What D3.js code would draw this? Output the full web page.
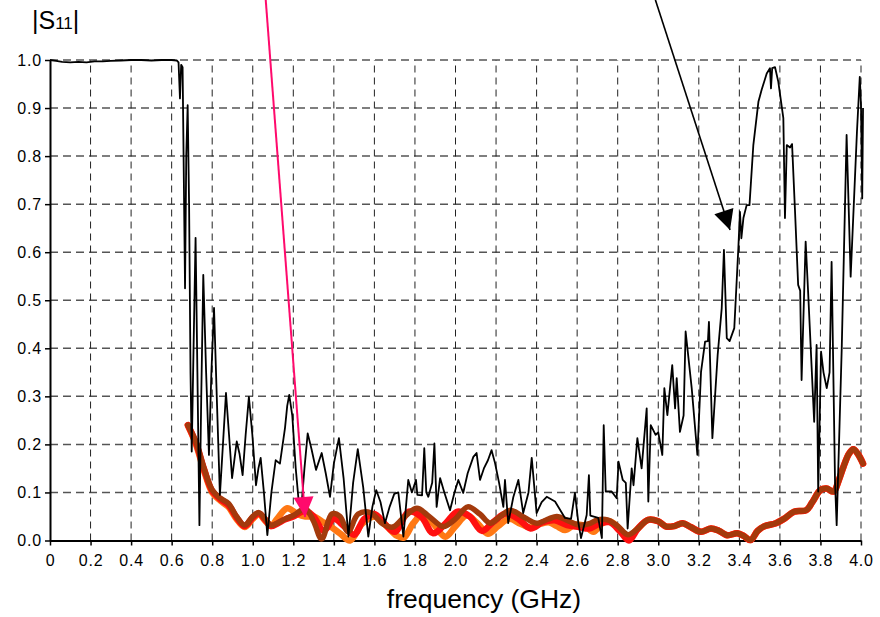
<!DOCTYPE html>
<meta charset="utf-8">
<style>
body { margin: 0; background: #fff; }
svg text { font-family: "Liberation Sans", Arial, sans-serif; fill: #000; }
</style>
<body>
<svg width="880" height="617"></svg>
<script src="https://cdn.jsdelivr.net/npm/d3@7"></script>
<script>

var xTicks = [0,0.2,0.4,0.6,0.8,1.0,1.2,1.4,1.6,1.8,2.0,2.2,2.4,2.6,2.8,3.0,3.2,3.4,3.6,3.8,4.0];
var xTickLabels = ["0","0.2","0.4","0.6","0.8","1.0","1.2","1.4","1.6","1.8","2.0","2.2","2.4","2.6","2.8","3.0","3.2","3.4","3.6","3.8","4.0"];
var yTicks = [0,0.1,0.2,0.3,0.4,0.5,0.6,0.7,0.8,0.9,1.0];
var yTickLabels = ["0.0","0.1","0.2","0.3","0.4","0.5","0.6","0.7","0.8","0.9","1.0"];

// measured |S11| (black)
var measured = [
[0.00,1.000],[0.03,0.998],[0.06,0.996],[0.10,0.995],[0.14,0.996],[0.18,0.995],[0.22,0.997],[0.26,0.997],[0.30,0.998],[0.35,0.999],[0.40,1.0],[0.45,1.0],[0.50,0.999],[0.55,1.0],[0.60,1.0],[0.625,0.999],[0.634,0.995],
[0.641,0.92],[0.647,0.99],[0.654,0.985],[0.666,0.525],[0.672,0.8],[0.679,0.906],[0.686,0.7],[0.693,0.35],[0.699,0.185],[0.708,0.4],[0.718,0.63],[0.727,0.35],[0.737,0.032],[0.746,0.3],[0.756,0.553],[0.770,0.35],[0.784,0.178],[0.796,0.35],[0.809,0.484],[0.824,0.28],[0.838,0.095],[0.853,0.2],[0.868,0.307],[0.883,0.22],[0.898,0.13],[0.910,0.17],[0.921,0.206],[0.935,0.18],[0.950,0.136],[0.965,0.22],[0.981,0.299],[0.998,0.22],[1.016,0.115],[1.028,0.15],[1.039,0.172],[1.055,0.1],[1.072,0.011],[1.092,0.1],[1.113,0.167],[1.134,0.16],[1.159,0.234],[1.170,0.28],[1.180,0.303],[1.195,0.26],[1.212,0.15],[1.225,0.089],[1.240,0.07],[1.255,0.15],[1.271,0.223],[1.290,0.19],[1.312,0.147],[1.340,0.182],[1.360,0.14],[1.381,0.091],[1.400,0.16],[1.425,0.213],[1.448,0.13],[1.472,0.008],[1.495,0.12],[1.518,0.19],[1.545,0.11],[1.570,0.008],[1.590,0.07],[1.609,0.105],[1.630,0.08],[1.652,0.036],[1.675,0.07],[1.698,0.097],[1.718,0.1],[1.743,0.008],[1.767,0.126],[1.785,0.1],[1.805,0.126],[1.812,0.095],[1.835,0.094],[1.846,0.192],[1.856,0.1],[1.866,0.091],[1.885,0.12],[1.896,0.202],[1.907,0.07],[1.924,0.13],[1.945,0.1],[1.973,0.063],[1.995,0.1],[2.014,0.126],[2.038,0.099],[2.060,0.14],[2.088,0.174],[2.104,0.182],[2.121,0.126],[2.140,0.15],[2.160,0.167],[2.178,0.188],[2.195,0.161],[2.215,0.12],[2.236,0.07],[2.244,0.126],[2.260,0.036],[2.285,0.09],[2.310,0.126],[2.334,0.057],[2.360,0.1],[2.376,0.172],[2.400,0.057],[2.425,0.08],[2.450,0.091],[2.491,0.081],[2.540,0.047],[2.570,0.045],[2.589,0.099],[2.605,0.04],[2.619,0.005],[2.647,0.053],[2.658,0.136],[2.665,0.052],[2.704,0.047],[2.722,0.005],[2.731,0.24],[2.741,0.102],[2.770,0.102],[2.795,0.088],[2.804,0.164],[2.825,0.126],[2.840,0.12],[2.849,0.025],[2.869,0.15],[2.878,0.115],[2.897,0.213],[2.918,0.15],[2.943,0.275],[2.951,0.081],[2.963,0.24],[2.987,0.22],[3.000,0.225],[3.020,0.178],[3.030,0.317],[3.045,0.261],[3.069,0.365],[3.083,0.275],[3.091,0.338],[3.107,0.226],[3.125,0.26],[3.135,0.435],[3.165,0.317],[3.193,0.178],[3.211,0.351],[3.231,0.414],[3.245,0.415],[3.250,0.455],[3.267,0.213],[3.293,0.386],[3.313,0.483],[3.324,0.605],[3.338,0.421],[3.352,0.415],[3.375,0.442],[3.395,0.608],[3.403,0.684],[3.410,0.629],[3.420,0.671],[3.436,0.698],[3.450,0.698],[3.469,0.823],[3.494,0.913],[3.510,0.938],[3.535,0.972],[3.551,0.983],[3.556,0.941],[3.562,0.983],[3.576,0.985],[3.592,0.955],[3.617,0.879],[3.625,0.671],[3.634,0.823],[3.650,0.818],[3.660,0.825],[3.674,0.691],[3.690,0.532],[3.700,0.52],[3.707,0.334],[3.727,0.622],[3.740,0.51],[3.769,0.247],[3.781,0.407],[3.789,0.102],[3.803,0.393],[3.815,0.35],[3.831,0.317],[3.845,0.35],[3.855,0.58],[3.872,0.12],[3.880,0.032],[3.905,0.4],[3.929,0.844],[3.949,0.549],[3.980,0.85],[3.994,0.965],[4.000,0.906],[4.006,0.712],[4.010,0.9]
];

// simulated curves (thick): separate below 2.86 GHz, shared above
var orangeHead = [
[0.68,0.24],[0.72,0.2],[0.76,0.145],[0.80,0.1],[0.84,0.083],[0.88,0.07],[0.92,0.045],[0.96,0.028],[1.00,0.045],[1.03,0.055],[1.06,0.042],[1.09,0.03],[1.12,0.045],[1.17,0.067],[1.22,0.055],[1.26,0.05],[1.30,0.05],[1.34,0.04],[1.38,0.03],[1.43,0.015],[1.48,0.0],[1.54,0.035],[1.60,0.05],[1.66,0.03],[1.71,0.01],[1.745,0.006],[1.79,0.035],[1.84,0.055],[1.89,0.035],[1.95,0.008],[2.00,0.03],[2.055,0.052],[2.11,0.035],[2.16,0.014],[2.21,0.03],[2.265,0.045],[2.32,0.035],[2.37,0.027],[2.42,0.035],[2.46,0.038],[2.50,0.03],[2.54,0.022],[2.59,0.033],[2.64,0.03],[2.68,0.018],[2.72,0.035],[2.76,0.04],[2.80,0.028],[2.85,0.008]
];
var redHead = [
[0.68,0.24],[0.72,0.203],[0.76,0.148],[0.80,0.103],[0.84,0.086],[0.88,0.074],[0.92,0.048],[0.96,0.03],[1.00,0.048],[1.03,0.056],[1.06,0.044],[1.09,0.03],[1.12,0.035],[1.16,0.044],[1.20,0.05],[1.26,0.062],[1.30,0.05],[1.35,0.02],[1.40,0.045],[1.45,0.03],[1.50,0.012],[1.55,0.045],[1.60,0.055],[1.65,0.035],[1.70,0.018],[1.77,0.06],[1.83,0.05],[1.89,0.015],[1.95,0.035],[2.01,0.06],[2.07,0.05],[2.13,0.02],[2.19,0.04],[2.25,0.056],[2.31,0.045],[2.37,0.025],[2.43,0.038],[2.49,0.042],[2.55,0.032],[2.61,0.028],[2.66,0.025],[2.71,0.035],[2.76,0.038],[2.81,0.02],[2.855,0.0]
];
var brownHead = [
[0.68,0.24],[0.72,0.205],[0.76,0.15],[0.80,0.105],[0.84,0.088],[0.88,0.077],[0.92,0.05],[0.96,0.032],[1.00,0.05],[1.03,0.058],[1.06,0.045],[1.09,0.032],[1.12,0.036],[1.16,0.045],[1.20,0.052],[1.26,0.066],[1.30,0.04],[1.34,0.003],[1.39,0.055],[1.43,0.05],[1.47,0.018],[1.52,0.055],[1.58,0.058],[1.64,0.035],[1.69,0.028],[1.75,0.05],[1.81,0.067],[1.87,0.05],[1.94,0.029],[2.00,0.045],[2.06,0.07],[2.12,0.055],[2.17,0.036],[2.22,0.05],[2.27,0.063],[2.34,0.048],[2.40,0.036],[2.46,0.045],[2.50,0.05],[2.56,0.04],[2.61,0.032],[2.66,0.035],[2.70,0.043],[2.75,0.043],[2.80,0.03],[2.85,0.012]
];
var sharedTail = [
[2.90,0.025],[2.95,0.043],[3.00,0.04],[3.04,0.029],[3.08,0.03],[3.12,0.036],[3.16,0.028],[3.21,0.018],[3.26,0.025],[3.30,0.02],[3.34,0.011],[3.39,0.015],[3.42,0.01],[3.455,0.001],[3.49,0.02],[3.52,0.029],[3.58,0.036],[3.62,0.045],[3.67,0.06],[3.73,0.063],[3.76,0.08],[3.80,0.105],[3.83,0.108],[3.865,0.102],[3.89,0.125],[3.915,0.155],[3.94,0.18],[3.962,0.19],[3.985,0.18],[4.01,0.16]
];

// annotation arrows in data units: [from, to]
var pinkArrow = [[1.064,1.125],[1.258,0.049]];
var blackArrow = [[2.986,1.125],[3.354,0.646]];

var svg = d3.select("svg");
var x = d3.scaleLinear().domain([0,4]).range([50,861]);
var y = d3.scaleLinear().domain([0,1]).range([540.5,60]);

// grid
svg.append("g").selectAll("line").data(yTicks.slice(1)).join("line")
  .attr("x1", x(0)).attr("x2", x(4)).attr("y1", d => y(d)).attr("y2", d => y(d))
  .attr("stroke", "#555").attr("stroke-width", 1.5).attr("stroke-dasharray", "8,5");
svg.append("g").selectAll("line").data(xTicks.slice(1)).join("line")
  .attr("x1", d => x(d)).attr("x2", d => x(d)).attr("y1", y(0)).attr("y2", y(1))
  .attr("stroke", "#222").attr("stroke-width", 1).attr("stroke-dasharray", "7,5");

// axes
var xAxis = svg.append("g").attr("transform", "translate(0," + y(0) + ")")
  .call(d3.axisBottom(x).tickValues(xTicks).tickFormat((d, i) => xTickLabels[i]).tickSize(5).tickSizeOuter(0));
var yAxis = svg.append("g").attr("transform", "translate(" + x(0) + ",0)")
  .call(d3.axisLeft(y).tickValues(yTicks).tickFormat((d, i) => yTickLabels[i]).tickSize(5).tickSizeOuter(0));
[xAxis, yAxis].forEach(function(a){
  a.attr("font-size", 16).attr("font-family", "Liberation Sans, Arial, sans-serif");
  a.select(".domain").attr("stroke", "#000").attr("stroke-width", 2);
  a.selectAll(".tick line").attr("stroke", "#000").attr("stroke-width", 1.5);
  a.selectAll(".tick text").attr("letter-spacing", 0.8);
});
xAxis.selectAll(".tick text").attr("dy", "1.1em");
yAxis.selectAll(".tick text").attr("x", -8);

// curves
var smooth = d3.line().x(d => x(d[0])).y(d => y(d[1])).curve(d3.curveCatmullRom);
var sharp = d3.line().x(d => x(d[0])).y(d => y(d[1]));

var thick = [
  {data: orangeHead.concat(sharedTail), color: "#ff7814", w: 6.5},
  {data: redHead.concat(sharedTail), color: "#ff1010", w: 6.5},
  {data: brownHead.concat(sharedTail), color: "#a33a0c", w: 5.5}
];
svg.append("g").selectAll("path").data(thick).join("path")
  .attr("d", d => smooth(d.data)).attr("fill", "none")
  .attr("stroke", d => d.color).attr("stroke-width", d => d.w)
  .attr("stroke-linejoin", "round").attr("stroke-linecap", "round");

svg.append("path").attr("d", sharp(measured)).attr("fill", "none")
  .attr("stroke", "#000").attr("stroke-width", 1.8).attr("stroke-linejoin", "round");

// arrows
var defs = svg.append("defs");
function marker(id, color) {
  defs.append("marker").attr("id", id).attr("viewBox", "0 0 10 10")
    .attr("refX", 10).attr("refY", 5).attr("markerWidth", 22).attr("markerHeight", 20)
    .attr("markerUnits", "userSpaceOnUse").attr("orient", "auto")
    .append("path").attr("d", "M0,0L10,5L0,10Z").attr("fill", color);
}
marker("headPink", "#ff0a6c");
marker("headBlack", "#000");
svg.append("path").attr("d", sharp(pinkArrow)).attr("stroke", "#ff0a6c").attr("stroke-width", 2)
  .attr("marker-end", "url(#headPink)");
svg.append("path").attr("d", sharp(blackArrow)).attr("stroke", "#000").attr("stroke-width", 1.6)
  .attr("marker-end", "url(#headBlack)");

// labels
svg.append("text").attr("x", 484).attr("y", 608).attr("text-anchor", "middle")
  .attr("font-size", 26.5).text("frequency (GHz)");
var s = svg.append("text").attr("x", 32).attr("y", 29).attr("font-size", 25);
s.append("tspan").text("|S");
s.append("tspan").attr("font-size", 17).text("11");
s.append("tspan").text("|");

</script>
</body>
